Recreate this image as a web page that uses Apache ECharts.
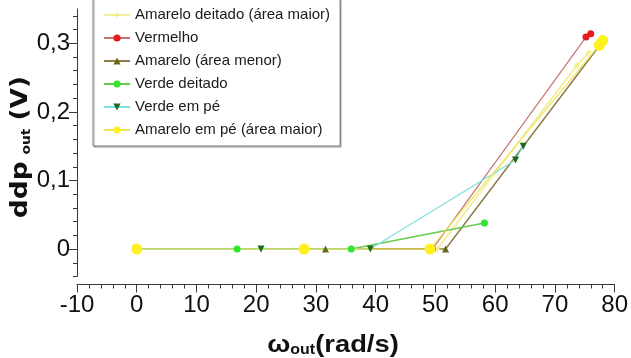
<!DOCTYPE html>
<html>
<head>
<meta charset="utf-8">
<script src="https://cdn.jsdelivr.net/npm/echarts@6/dist/echarts.min.js"></script>
<style>html,body{margin:0;padding:0;background:#fff}#c{width:631px;height:358px}</style>
</head>
<body>
<div id="c"></div>
<script>
// ---- data ----
var seriesNames = ['Amarelo deitado (área maior)', 'Vermelho', 'Amarelo (área menor)', 'Verde deitado', 'Verde em pé', 'Amarelo em pé (área maior)'];
var amareloDeitado = [[0, 0], [28, 0], [50.3, 0], [73.7, 0.268], [75.7, 0.287]];
var vermelho = [[0, 0], [28, 0], [49.5, 0], [75.2, 0.309], [76.0, 0.314]];
var amareloMenor = [[0, 0], [31.6, 0], [51.7, 0], [77.4, 0.296]];
var verdeDeitado = [[0, 0], [16.8, 0], [35.9, 0], [58.2, 0.038]];
var verdeEmPe = [[0, 0], [20.8, 0], [39.1, 0], [63.4, 0.130], [64.7, 0.150]];
var amareloEmPe = [[0, 0], [28, 0], [49.1, 0], [77.4, 0.297], [78.0, 0.304]];
var xTicks = [-10, 0, 10, 20, 30, 40, 50, 60, 70, 80];
var yMajorTicks = [0, 0.1, 0.2, 0.3];
var yMinorTicks = [-0.04, -0.02, 0.02, 0.04, 0.06, 0.08, 0.12, 0.14, 0.16, 0.18, 0.22, 0.24, 0.26, 0.28, 0.32, 0.34];

var chart = echarts.init(document.getElementById('c'), null, {renderer: 'canvas'});
var sans = '"Liberation Sans", Arial, sans-serif';
var axisColor = '#3a3a3a';

function mk(name, data, symbol, size, color, lineColor, extra) {
  var s = {
    name: name, type: 'line', data: data, symbol: symbol, symbolSize: size,
    showSymbol: true,
    itemStyle: {color: color},
    lineStyle: {color: lineColor, width: 1.2},
    emphasis: {disabled: true},
    animation: false
  };
  if (extra) for (var k in extra) s[k] = extra[k];
  return s;
}
var star = 'path://M0,-10L2.5,-2.5L10,0L2.5,2.5L0,10L-2.5,2.5L-10,0L-2.5,-2.5Z';

var option = {
  animation: false,
  grid: {left: 77, right: 13, top: 9, bottom: 81.5, containLabel: false},
  legend: {
    orient: 'vertical', left: 93, top: -2,
    padding: [8, 10, 7, 10],
    itemGap: 5, itemWidth: 26, itemHeight: 9,
    backgroundColor: '#fff', borderColor: '#808080', borderWidth: 1,
    shadowColor: 'rgba(0,0,0,0.35)', shadowOffsetX: 1, shadowOffsetY: 1, shadowBlur: 1,
    textStyle: {fontFamily: sans, fontSize: 15, color: '#1a1a1a', lineHeight: 18},
    data: seriesNames
  },
  xAxis: {
    type: 'value', min: -10, max: 80, interval: 10, offset: 8,
    axisLine: {show: true, onZero: false, lineStyle: {color: axisColor, width: 1}},
    axisTick: {show: true, length: 8, lineStyle: {color: axisColor}},
    minorTick: {show: true, splitNumber: 5, length: 4, lineStyle: {color: axisColor}},
    axisLabel: {fontFamily: sans, fontSize: 24, color: '#111', margin: 9},
    splitLine: {show: false}
  },
  yAxis: [{
    type: 'value', min: -0.04, max: 0.35, position: 'left',
    axisLine: {show: true, onZero: false, lineStyle: {color: axisColor, width: 1}},
    axisTick: {show: true, length: 8, customValues: yMajorTicks, lineStyle: {color: axisColor}},
    axisLabel: {customValues: yMajorTicks, fontFamily: sans, fontSize: 24, color: '#111', margin: 7,
      formatter: function (v) { return (Math.round(v * 10) / 10).toString().replace('.', ','); }},
    splitLine: {show: false}
  }, {
    type: 'value', min: -0.04, max: 0.35, position: 'left',
    axisLine: {show: false, onZero: false},
    axisTick: {show: true, length: 4, customValues: yMinorTicks, lineStyle: {color: axisColor}},
    axisLabel: {show: false},
    splitLine: {show: false}
  }],
  graphic: [{
    type: 'text', x: 333, y: 343, scaleX: 1.14,
    style: {
      text: '{b|ω}{s|out}{b|(rad/s)}',
      align: 'center', verticalAlign: 'middle',
      rich: {
        b: {fontFamily: sans, fontWeight: 'bold', fontSize: 24, lineHeight: 28, verticalAlign: 'bottom', fill: '#111'},
        s: {fontFamily: sans, fontWeight: 'bold', fontSize: 14, lineHeight: 14, verticalAlign: 'bottom', fill: '#111'}
      }
    }
  }, {
    type: 'text', x: 19, y: 147, rotation: Math.PI / 2, scaleX: 1.15,
    style: {
      text: '{b|ddp}{s|out}{b|(V)}',
      align: 'center', verticalAlign: 'middle',
      rich: {
        b: {fontFamily: '"DejaVu Sans", sans-serif', fontWeight: 'bold', fontSize: 23, lineHeight: 27, verticalAlign: 'bottom', fill: '#111'},
        s: {fontFamily: '"DejaVu Sans", sans-serif', fontWeight: 'bold', fontSize: 12, lineHeight: 12, verticalAlign: 'bottom', fill: '#111', padding: [0, 7, 0, 6]}
      }
    }
  }],
  series: [
    mk(seriesNames[0], amareloDeitado, star, 8, '#f3f07a', '#f2ee9a', {lineStyle: {color: '#f3efa0', width: 2}}),
    mk(seriesNames[1], vermelho, 'circle', 7, '#e61a1c', '#c77373'),
    mk(seriesNames[2], amareloMenor, 'triangle', 7, '#6a6812', '#8c7c4c', {lineStyle: {color: '#8c7c4c', width: 1.5}}),
    mk(seriesNames[3], verdeDeitado, 'circle', 7, '#2ee62e', '#5cc85c', {lineStyle: {color: '#66cc4c', width: 1.5}}),
    mk(seriesNames[4], verdeEmPe, 'triangle', 7, '#1d6a1d', '#7ee0e0', {symbolRotate: 180}),
    mk(seriesNames[5], amareloEmPe, 'circle', 11, '#fff01e', '#efe45a')
  ]
};
chart.setOption(option);
</script>
</body>
</html>
